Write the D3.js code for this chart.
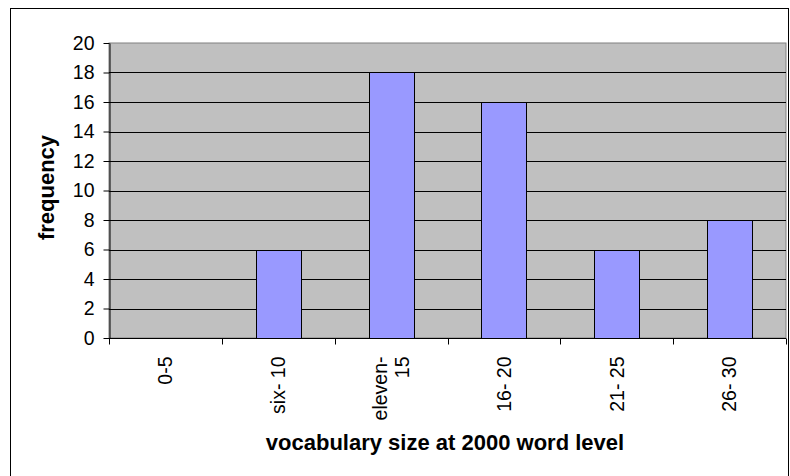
<!DOCTYPE html>
<html>
<head>
<meta charset="utf-8">
<script src="https://cdn.jsdelivr.net/npm/d3@7"></script>
<style>
  body { margin: 0; background: #fff; }
  svg { display: block; font-family: "Liberation Sans", Arial, sans-serif; }
</style>
</head>
<body>
<svg id="chart" width="790" height="476"></svg>
<script>
// data
const categories = ["0-5", "six- 10", "eleven-\n15", "16- 20", "21- 25", "26- 30"];
const frequency = [0, 6, 18, 16, 6, 8];
const yTicks = [0, 2, 4, 6, 8, 10, 12, 14, 16, 18, 20];

const margin = { top: 43, right: 4, bottom: 138, left: 109 },
  width = 786 - margin.left,
  height = 338 - margin.top;

const root = d3.select("#chart");

// outer chart frame
root.append("rect")
  .attr("x", 10.5).attr("y", 8.5)
  .attr("width", 778).attr("height", 480)
  .attr("fill", "#fff")
  .attr("stroke", "#000");

const svg = root.append("g")
  .attr("transform", `translate(${margin.left},${margin.top})`);

const x = d3.scaleBand().domain(categories).range([0, width]).paddingInner(0).paddingOuter(0);
const y = d3.scaleLinear().domain([0, 20]).range([height, 0]);

// plot background
svg.append("rect")
  .attr("width", width).attr("height", height)
  .attr("fill", "#c0c0c0")
  .attr("stroke", "#808080");

// gridlines
svg.append("g")
  .selectAll("line")
  .data(yTicks.filter((d) => d > 0 && d < 20))
  .join("line")
  .attr("x1", 0).attr("x2", width)
  .attr("y1", (d) => Math.round(y(d)) + 0.5)
  .attr("y2", (d) => Math.round(y(d)) + 0.5)
  .attr("stroke", "#000");

// bars (gap width 150%)
const barW = x.bandwidth() / 2.5;
svg.append("g")
  .selectAll("rect")
  .data(categories.map((c, i) => ({ c, v: frequency[i] })).filter((d) => d.v > 0))
  .join("rect")
  .attr("x", (d) => Math.round(x(d.c) + (x.bandwidth() - barW) / 2) + 0.5)
  .attr("y", (d) => Math.round(y(d.v)) + 0.5)
  .attr("width", Math.round(barW))
  .attr("height", (d) => Math.round(y(0)) - Math.round(y(d.v)))
  .attr("fill", "#9999ff")
  .attr("stroke", "#000");

// y axis
const yAxis = svg.append("g")
  .attr("transform", "translate(0.5,0)")
  .call(d3.axisLeft(y).tickValues(yTicks).tickSize(6).tickPadding(9).tickSizeOuter(0));
yAxis.select(".domain").attr("stroke", "#000");
yAxis.selectAll("text").style("font-size", "19.5px").attr("fill", "#000");

// x axis: ticks on category boundaries
const xg = svg.append("g").attr("transform", `translate(0,${Math.round(height) + 0.5})`);
xg.append("line").attr("x1", 0).attr("x2", width).attr("stroke", "#000");
xg.selectAll("line.tick")
  .data(d3.range(categories.length + 1))
  .join("line")
  .attr("class", "tick")
  .attr("x1", (i) => Math.round(i * x.step()) + 0.5)
  .attr("x2", (i) => Math.round(i * x.step()) + 0.5)
  .attr("y1", 0).attr("y2", 6)
  .attr("stroke", "#000");

// rotated category labels
const lab = xg.selectAll("text.lab")
  .data(categories)
  .join("text")
  .attr("class", "lab")
  .attr("transform", (d) => `translate(${x(d) + x.bandwidth() / 2},18) rotate(-90)`)
  .attr("text-anchor", "end")
  .style("font-size", "19.5px");
lab.each(function (d) {
  const lines = d.split("\n");
  const t = d3.select(this);
  lines.forEach((ln, i) => {
    t.append("tspan")
      .attr("x", 0)
      .attr("dy", i === 0 ? (0.35 - (lines.length - 1) * 0.58) + "em" : "1.16em")
      .text(ln);
  });
});

// axis titles
root.append("text")
  .attr("x", 445)
  .attr("y", 450)
  .attr("text-anchor", "middle")
  .style("font-size", "22px")
  .style("font-weight", "bold")
  .text("vocabulary size at 2000 word level");

root.append("text")
  .attr("transform", `translate(54,${margin.top + height / 2 - 3}) rotate(-90)`)
  .attr("text-anchor", "middle")
  .style("font-size", "22px")
  .style("font-weight", "bold")
  .text("frequency");
</script>
</body>
</html>
